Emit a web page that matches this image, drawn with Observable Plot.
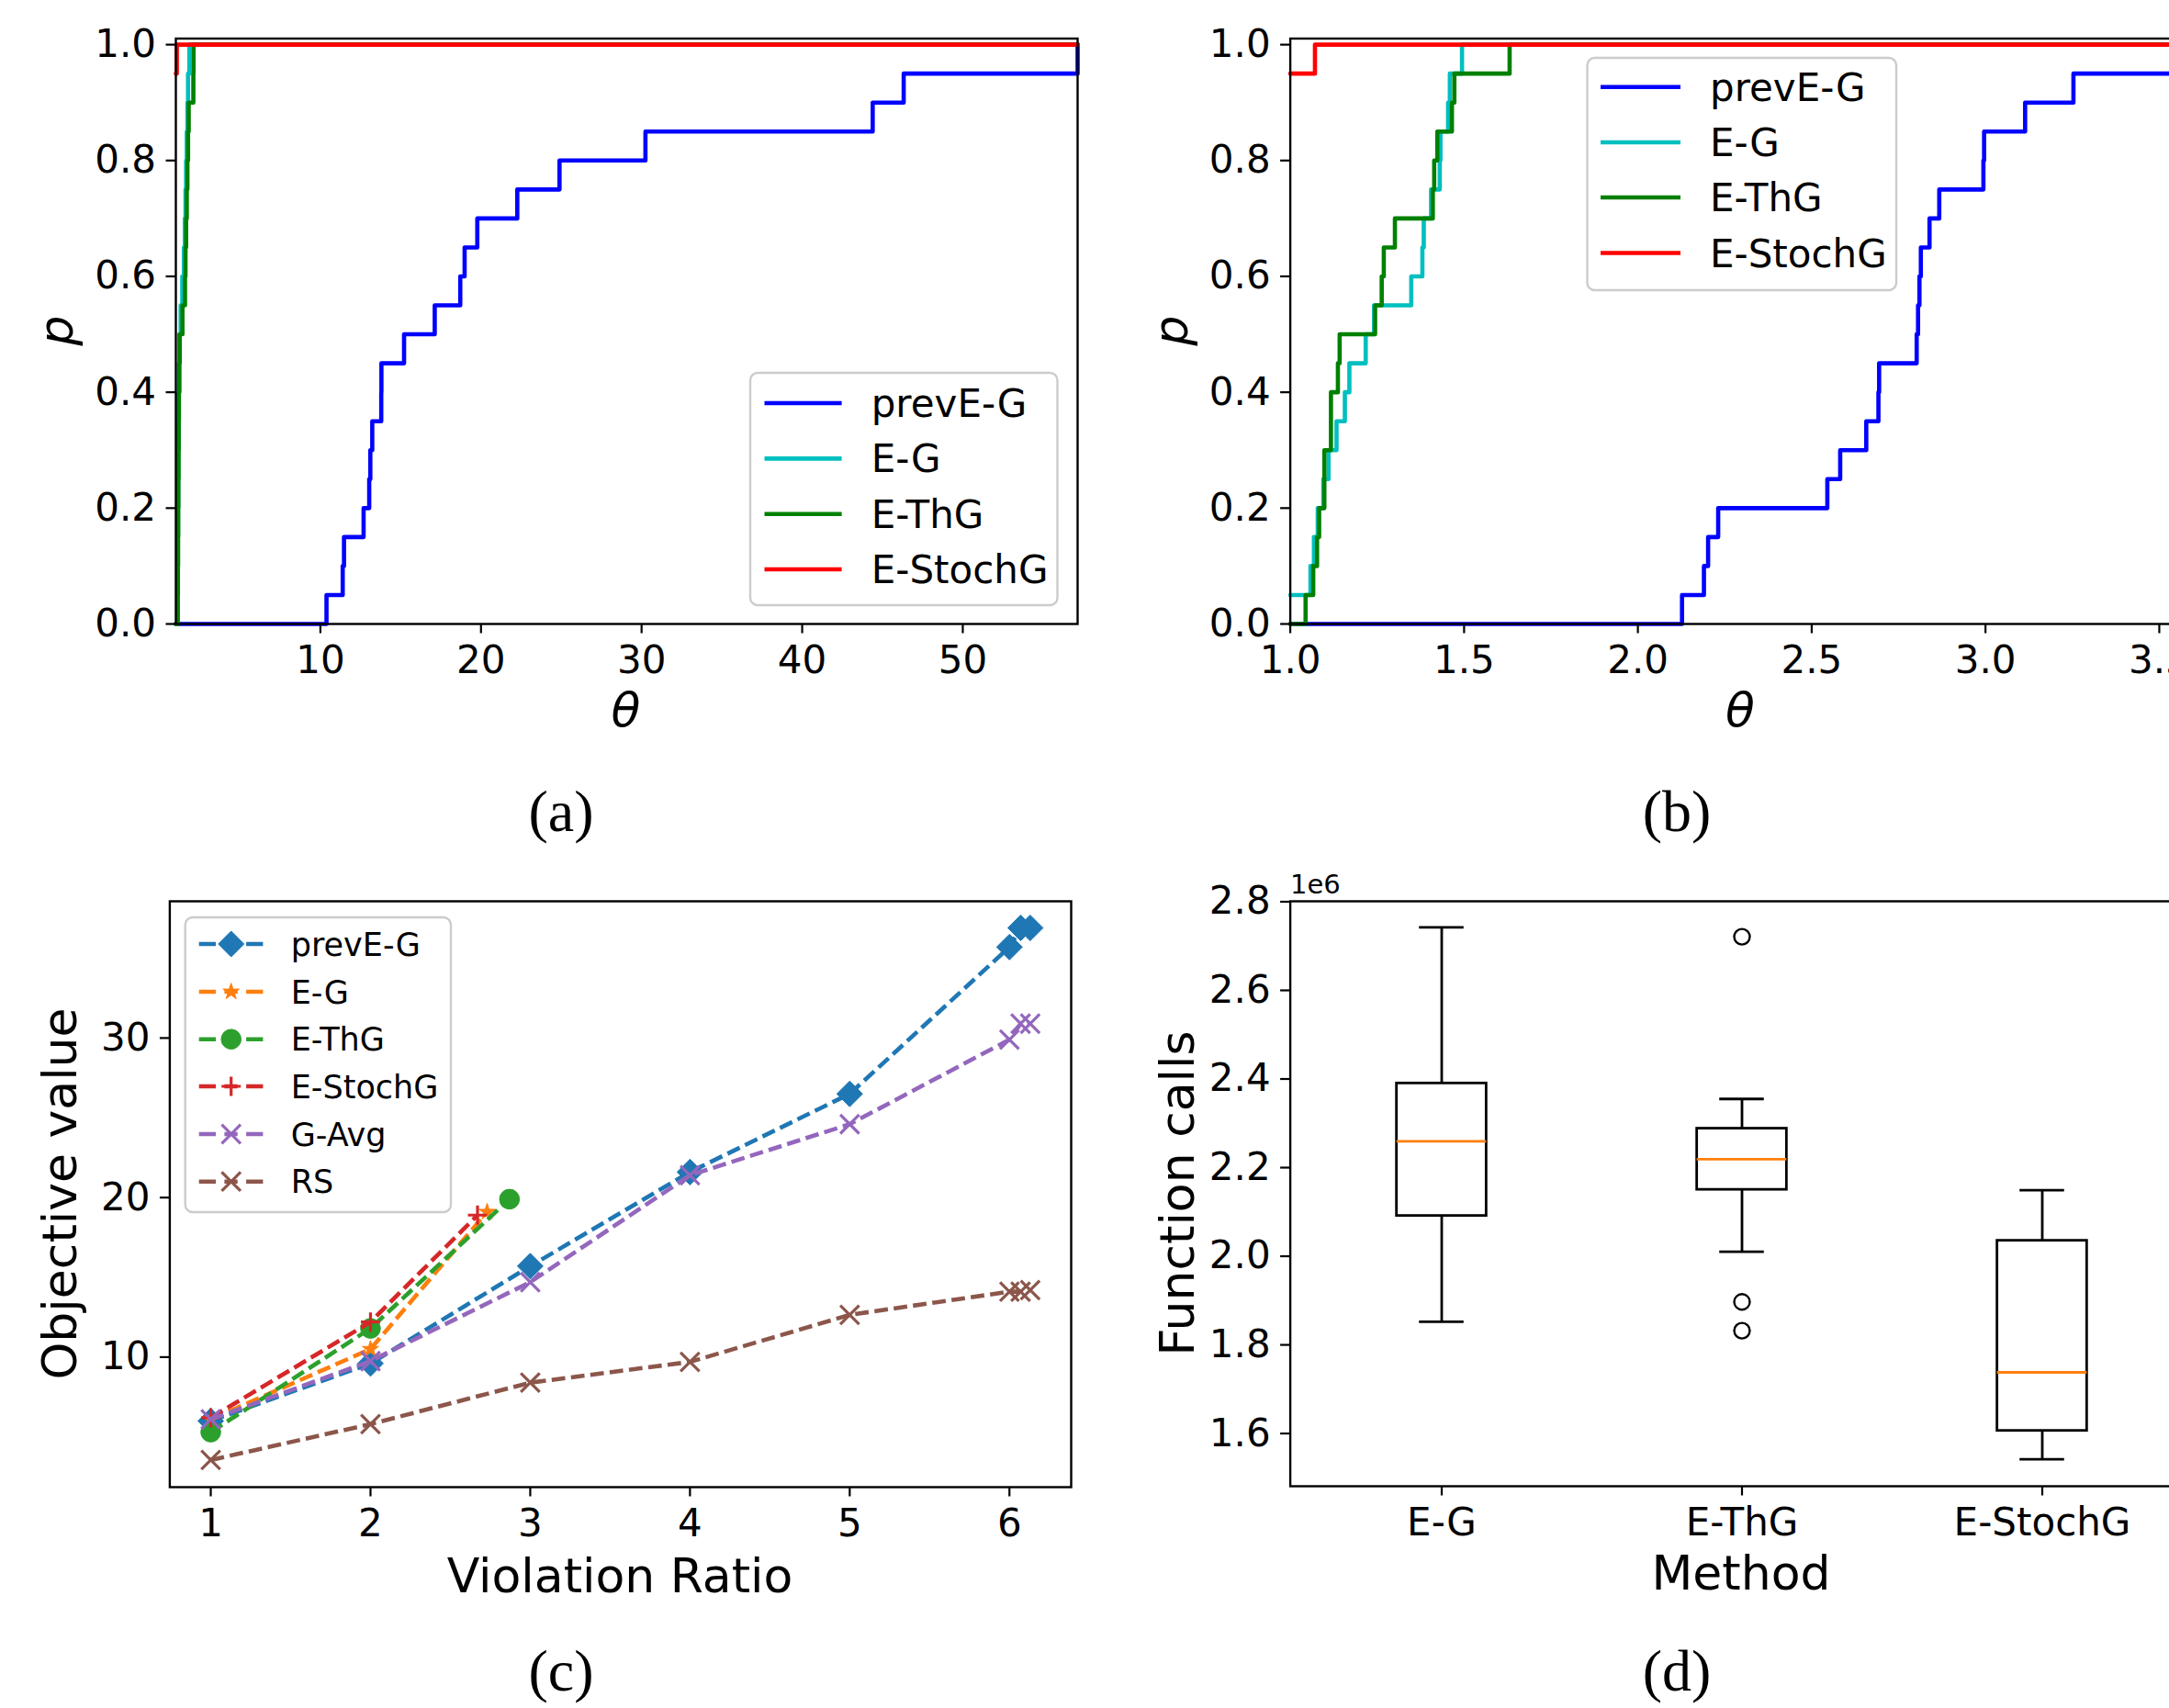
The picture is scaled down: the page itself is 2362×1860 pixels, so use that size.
<!DOCTYPE html>
<html><head><meta charset="utf-8">
<script src="https://cdn.jsdelivr.net/npm/d3@7"></script>
<script src="https://cdn.jsdelivr.net/npm/@observablehq/plot@0.6"></script>
<style>
html,body{margin:0;padding:0;width:2362px;height:1860px;overflow:hidden;background:#fff;}
#root{position:relative;width:2362px;height:1860px;overflow:hidden;background:#fff;}
</style></head>
<body><div id="root"></div>
<script>
// ---------------- DATA ----------------
// Panels (a),(b): performance-profile ratios theta (20 problems per method)
const profileMethods = ["prevE-G", "E-G", "E-ThG", "E-StochG"];
const thetaA_prevEG = [10.38, 11.39, 11.47, 12.69, 13.04, 13.11, 13.23, 13.79, 13.80, 15.21, 17.12, 18.71, 18.98, 19.77, 22.26, 24.89, 30.24, 44.39, 46.32, 57.15];
const thetaA_EG = [1.10, 1.11, 1.12, 1.13, 1.14, 1.15, 1.16, 1.17, 1.19, 1.22, 1.30, 1.40, 1.50, 1.56, 1.60, 1.64, 1.68, 1.72, 1.76, 1.84];
const thetaA_EThG = [1.12, 1.13, 1.14, 1.15, 1.16, 1.17, 1.18, 1.19, 1.22, 1.24, 1.41, 1.57, 1.60, 1.64, 1.68, 1.72, 1.76, 1.80, 2.09, 2.10];
const thetaA_EStochG = [1.0, 1.0, 1.0, 1.0, 1.0, 1.0, 1.0, 1.0, 1.0, 1.0, 1.0, 1.0, 1.0, 1.0, 1.0, 1.0, 1.0, 1.0, 1.0, 1.06];
const thetaB_prevEG = [2.127, 2.190, 2.202, 2.231, 2.545, 2.582, 2.657, 2.692, 2.694, 2.802, 2.806, 2.810, 2.814, 2.839, 2.867, 2.994, 2.996, 3.114, 3.253, 3.59];
const thetaB_EG = [1.0, 1.058, 1.068, 1.079, 1.095, 1.110, 1.133, 1.157, 1.170, 1.217, 1.241, 1.348, 1.380, 1.384, 1.405, 1.430, 1.432, 1.454, 1.459, 1.494];
const thetaB_EThG = [1.044, 1.066, 1.077, 1.083, 1.098, 1.098, 1.117, 1.117, 1.137, 1.142, 1.244, 1.263, 1.269, 1.301, 1.410, 1.414, 1.423, 1.465, 1.472, 1.631];
const thetaB_EStochG = [1.0, 1.0, 1.0, 1.0, 1.0, 1.0, 1.0, 1.0, 1.0, 1.0, 1.0, 1.0, 1.0, 1.0, 1.0, 1.0, 1.0, 1.0, 1.0, 1.071];
const thetaDomainA = [1, 57.15];
const thetaDomainB = [1, 3.59];
const pTicks = [0, 0.2, 0.4, 0.6, 0.8, 1.0];
const thetaTicksA = [10, 20, 30, 40, 50];
const thetaTicksB = [1.0, 1.5, 2.0, 2.5, 3.0, 3.5];

// Panel (c): objective value vs violation ratio
const objMethods = ["prevE-G", "E-G", "E-ThG", "E-StochG", "G-Avg", "RS"];
const ratio_prevEG = [1, 2, 3, 4, 5, 6, 6.07, 6.13];
const obj_prevEG   = [6.0, 9.6, 15.7, 21.6, 26.5, 35.7, 36.9, 36.9];
const ratio_EG = [1, 2, 2.73];
const obj_EG   = [6.1, 10.5, 19.1];
const ratio_EThG = [1, 2, 2.87];
const obj_EThG   = [5.3, 11.8, 19.9];
const ratio_EStochG = [1, 2, 2.67];
const obj_EStochG   = [6.2, 12.2, 18.9];
const ratio_GAvg = [1, 2, 3, 4, 5, 6, 6.07, 6.13];
const obj_GAvg   = [6.1, 9.75, 14.7, 21.4, 24.6, 29.9, 30.9, 30.9];
const ratio_RS = [1, 2, 3, 4, 5, 6, 6.07, 6.13];
const obj_RS   = [3.55, 5.8, 8.4, 9.7, 12.65, 14.1, 14.1, 14.2];
const ratioTicks = [1, 2, 3, 4, 5, 6];
const objTicks = [10, 20, 30];

// Panel (d): box-plot statistics of function calls
const boxMethods = ["E-G", "E-ThG", "E-StochG"];
const boxWhiskerLow  = [1852000, 2010000, 1542000];
const boxQ1          = [2091000, 2150000, 1606000];
const boxMedian      = [2259500, 2219000, 1738000];
const boxQ3          = [2390000, 2288000, 2035000];
const boxWhiskerHigh = [2742000, 2355000, 2149000];
const boxOutliers    = [[], [2721000, 1897000, 1832000], []];
const callTicks = [1600000, 1800000, 2000000, 2200000, 2400000, 2600000, 2800000];

// ---------------- STYLES ----------------
const profileColors = ["#0000ff", "#00bfbf", "#008000", "#ff0000"];
const objColors = ["#1f77b4", "#ff7f0e", "#2ca02c", "#d62728", "#9467bd", "#8c564b"];
const objSymbols = ["diamond2", "star", "circle", "plus", "times", "times"];
const objR = [12.6, 5.6, 10.8, 6.8, 9.4, 9.4];
const FONT = "DejaVu Sans";
const TICK_FS = 42;
const STEP_W = 4.6;
const DASH_W = 4.6;

const root = document.getElementById("root");
function place(node, left, top) {
  node.style.position = "absolute";
  node.style.left = left + "px";
  node.style.top = top + "px";
  node.style.maxWidth = "none";
  root.appendChild(node);
}

function ecdfRows(method, thetas, xmax) {
  const n = thetas.length;
  const sorted = thetas.slice().sort((a, b) => a - b);
  const rows = [{method, x: 1, y: sorted.filter(t => t <= 1).length / n}];
  for (const u of Array.from(new Set(sorted)).filter(t => t > 1)) {
    rows.push({method, x: u, y: sorted.filter(t => t <= u).length / n});
  }
  rows.push({method, x: xmax, y: rows[rows.length - 1].y});
  return rows;
}

const baseStyle = {fontFamily: FONT, fontSize: TICK_FS + "px", color: "black", background: "transparent", overflow: "visible"};

function profilePlot(rows, o) {
  return Plot.plot({
    width: o.width, height: 900,
    marginLeft: o.ml, marginRight: o.mr, marginTop: 41.5, marginBottom: 221,
    x: {domain: o.xdom},
    y: {domain: [0, 1.0105]},
    color: {domain: profileMethods, range: profileColors},
    style: baseStyle,
    marks: [
      Plot.line(rows, {x: "x", y: "y", z: "method", stroke: "method", strokeWidth: STEP_W, curve: "step-after"}),
      Plot.axisX({ticks: o.xticks, tickFormat: o.xfmt, tickSize: 10.5, tickPadding: 13, strokeWidth: 2.2, label: null, fontSize: TICK_FS}),
      Plot.axisY({ticks: pTicks, tickFormat: d3.format(".1f"), tickSize: 10.5, tickPadding: 11, strokeWidth: 2.2, label: null, fontSize: TICK_FS}),
      Plot.frame({stroke: "black", strokeWidth: 2.4})
    ]
  });
}

// (a)
const rowsA = [
  ...ecdfRows("prevE-G", thetaA_prevEG, thetaDomainA[1]),
  ...ecdfRows("E-G", thetaA_EG, thetaDomainA[1]),
  ...ecdfRows("E-ThG", thetaA_EThG, thetaDomainA[1]),
  ...ecdfRows("E-StochG", thetaA_EStochG, thetaDomainA[1])
];
place(profilePlot(rowsA, {width: 1200, ml: 191, mr: 27, xdom: thetaDomainA, xticks: thetaTicksA, xfmt: d3.format("d")}), 0, 0);

// (b)
const rowsB = [
  ...ecdfRows("prevE-G", thetaB_prevEG, thetaDomainB[1]),
  ...ecdfRows("E-G", thetaB_EG, thetaDomainB[1]),
  ...ecdfRows("E-ThG", thetaB_EThG, thetaDomainB[1]),
  ...ecdfRows("E-StochG", thetaB_EStochG, thetaDomainB[1])
];
place(profilePlot(rowsB, {width: 1250, ml: 204.6, mr: 65, xdom: thetaDomainB, xticks: thetaTicksB, xfmt: d3.format(".1f")}), 1200, 0);

// (c)
const objRatios = [ratio_prevEG, ratio_EG, ratio_EThG, ratio_EStochG, ratio_GAvg, ratio_RS];
const objValues = [obj_prevEG, obj_EG, obj_EThG, obj_EStochG, obj_GAvg, obj_RS];
const seriesMarks = [];
objMethods.forEach((m, i) => {
  const rows = objRatios[i].map((x, j) => ({method: m, x, y: objValues[i][j]}));
  seriesMarks.push(Plot.line(rows, {x: "x", y: "y", stroke: objColors[i], strokeWidth: DASH_W, strokeDasharray: "14.8,6.4", strokeLinecap: "butt"}));
  const stroked = objSymbols[i] === "plus" || objSymbols[i] === "times";
  seriesMarks.push(Plot.dot(rows, {x: "x", y: "y", symbol: () => objSymbols[i], r: objR[i],
    fill: stroked ? "none" : objColors[i], stroke: objColors[i], strokeWidth: stroked ? 3.2 : 1}));
});
place(Plot.plot({
  width: 1200, height: 900,
  marginLeft: 184.4, marginRight: 34, marginTop: 51, marginBottom: 211,
  x: {domain: [0.7435, 6.3865]},
  y: {domain: [1.85, 38.57]},
  symbol: {type: "identity"},
  style: baseStyle,
  marks: [
    ...seriesMarks,
    Plot.axisX({ticks: ratioTicks, tickFormat: d3.format("d"), tickSize: 10.5, tickPadding: 13, strokeWidth: 2.2, label: null, fontSize: TICK_FS}),
    Plot.axisY({ticks: objTicks, tickFormat: d3.format("d"), tickSize: 10.5, tickPadding: 11, strokeWidth: 2.2, label: null, fontSize: TICK_FS}),
    Plot.frame({stroke: "black", strokeWidth: 2.4})
  ]
}), 0, 930);

// (d)
const boxRows = boxMethods.map((m, i) => ({method: m, lo: boxWhiskerLow[i], q1: boxQ1[i], med: boxMedian[i], q3: boxQ3[i], hi: boxWhiskerHigh[i]}));
const outlierRows = boxMethods.flatMap((m, i) => boxOutliers[i].map(v => ({method: m, v})));
const dWidth = 1250, dML = 204.6, dMR = 62.6;
const bw = (dWidth - dML - dMR) / boxMethods.length;
const boxInset = bw * 0.35, capInset = bw * 0.425;
place(Plot.plot({
  width: dWidth, height: 900,
  marginLeft: dML, marginRight: dMR, marginTop: 51, marginBottom: 212,
  x: {type: "band", domain: boxMethods, padding: 0},
  y: {domain: [1481000, 2801000]},
  style: baseStyle,
  marks: [
    Plot.ruleX(boxRows, {x: "method", y1: "q3", y2: "hi", stroke: "black", strokeWidth: 2.8}),
    Plot.ruleX(boxRows, {x: "method", y1: "lo", y2: "q1", stroke: "black", strokeWidth: 2.8}),
    Plot.tickY(boxRows, {x: "method", y: "hi", stroke: "black", strokeWidth: 2.8, insetLeft: capInset, insetRight: capInset}),
    Plot.tickY(boxRows, {x: "method", y: "lo", stroke: "black", strokeWidth: 2.8, insetLeft: capInset, insetRight: capInset}),
    Plot.barY(boxRows, {x: "method", y1: "q1", y2: "q3", fill: "none", stroke: "black", strokeWidth: 2.8, insetLeft: boxInset, insetRight: boxInset}),
    Plot.tickY(boxRows, {x: "method", y: "med", stroke: "#ff7f0e", strokeWidth: 2.8, insetLeft: boxInset, insetRight: boxInset}),
    Plot.dot(outlierRows, {x: "method", y: "v", r: 8.5, stroke: "black", fill: "none", strokeWidth: 2.4}),
    Plot.axisX({tickSize: 10.5, tickPadding: 13, strokeWidth: 2.2, label: null, fontSize: TICK_FS}),
    Plot.axisY({ticks: callTicks, tickFormat: d => (d / 1e6).toFixed(1), tickSize: 10.5, tickPadding: 11, strokeWidth: 2.2, label: null, fontSize: TICK_FS}),
    Plot.frame({stroke: "black", strokeWidth: 2.4})
  ]
}), 1200, 930);

// ---------------- OVERLAY: labels & legends ----------------
const ov = d3.create("svg").attr("width", 2362).attr("height", 1860)
  .style("position", "absolute").style("left", "0px").style("top", "0px").style("pointer-events", "none");

function txt(t, x, y, o = {}) {
  const e = ov.append("text").attr("x", 0).attr("y", 0).text(t)
    .attr("font-family", o.family || FONT).attr("font-size", o.size || 52)
    .attr("text-anchor", o.anchor || "middle").attr("fill", "black");
  if (o.italic) e.attr("font-style", "italic");
  e.attr("transform", `translate(${x},${y})` + (o.rotate ? " rotate(-90)" : ""));
}
txt("θ", 681.5, 791, {italic: true});
txt("θ", 1895, 791, {italic: true});
txt("p", 79, 360, {italic: true, rotate: true});
txt("p", 1293, 360, {italic: true, rotate: true});
txt("Objective value", 82.5, 1300, {rotate: true});
txt("Violation Ratio", 675, 1734);
txt("Function calls", 1300, 1299.5, {rotate: true});
txt("Method", 1896, 1731);
txt("1e6", 1405, 972.7, {size: 29, anchor: "start"});
txt("(a)", 611, 905, {family: "Liberation Serif", size: 64});
txt("(b)", 1826, 905, {family: "Liberation Serif", size: 64});
txt("(c)", 611, 1841, {family: "Liberation Serif", size: 64});
txt("(d)", 1826, 1841, {family: "Liberation Serif", size: 64});

function legendBox(x0, y0, x1, y1) {
  ov.append("rect").attr("x", x0).attr("y", y0).attr("width", x1 - x0).attr("height", y1 - y0)
    .attr("rx", 8).attr("fill", "white").attr("fill-opacity", 0.85).attr("stroke", "#cccccc").attr("stroke-width", 2.4);
}
function profileLegend(bx0, by0, bx1, by1, lx0, lx1, tx, rows) {
  legendBox(bx0, by0, bx1, by1);
  profileMethods.forEach((m, i) => {
    ov.append("line").attr("x1", lx0).attr("x2", lx1).attr("y1", rows[i]).attr("y2", rows[i])
      .attr("stroke", profileColors[i]).attr("stroke-width", STEP_W);
    txt(m, tx, rows[i] + 15, {size: TICK_FS, anchor: "start"});
  });
}
profileLegend(817, 406, 1151.5, 659, 832.5, 916.6, 948.7, [439, 499.4, 559.7, 620]);
profileLegend(1728.5, 63, 2065, 316, 1743, 1830, 1862, [94.7, 155, 215, 275.5]);

// (c) legend
legendBox(201.7, 999, 491, 1320);
const symMap = {diamond2: d3.symbolDiamond2, star: d3.symbolStar, circle: d3.symbolCircle, plus: d3.symbolPlus, times: d3.symbolTimes};
const cRows = [1028, 1080, 1131.7, 1183, 1235, 1286.7];
objMethods.forEach((m, i) => {
  const y = cRows[i];
  ov.append("line").attr("x1", 216.7).attr("x2", 286.7).attr("y1", y).attr("y2", y)
    .attr("stroke", objColors[i]).attr("stroke-width", DASH_W).attr("stroke-dasharray", "18.3,9.4,14.3,9.4,18.3");
  const stroked = objSymbols[i] === "plus" || objSymbols[i] === "times";
  ov.append("path").attr("d", d3.symbol(symMap[objSymbols[i]], Math.PI * objR[i] * objR[i])())
    .attr("transform", `translate(251.7,${y})`)
    .attr("fill", stroked ? "none" : objColors[i]).attr("stroke", objColors[i]).attr("stroke-width", stroked ? 3.2 : 1);
  txt(m, 316.7, y + 12.5, {size: 35, anchor: "start"});
});

root.appendChild(ov.node());
</script>
</body></html>
